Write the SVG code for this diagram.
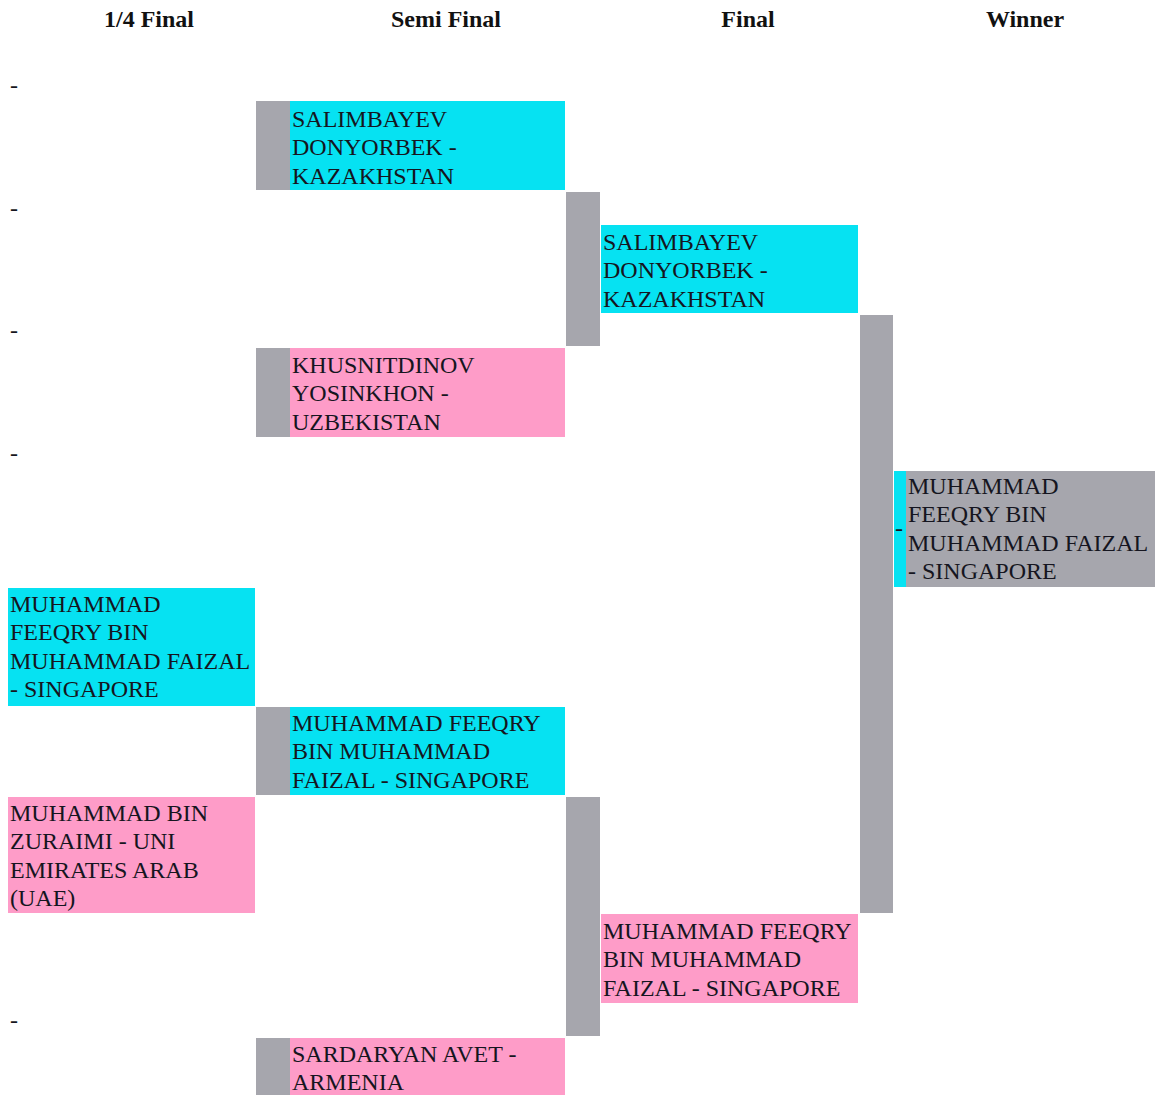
<svg xmlns="http://www.w3.org/2000/svg" width="1156" height="1095" viewBox="0 0 1156 1095">
<style>
.hdr{font-family:'Liberation Serif',serif;font-weight:700;font-size:24px;fill:#111;text-anchor:middle}
.t{font-family:'Liberation Serif',serif;font-weight:400;font-size:24px;fill:#151520}
.cy{fill:#06e2f2}
.pk{fill:#fe9cc8}
.gr{fill:#a6a6ad}
</style>
<rect width="1156" height="1095" fill="#ffffff"/>
<g id="headers">
<text class="hdr" x="149" y="27">1/4 Final</text>
<text class="hdr" x="446" y="27">Semi Final</text>
<text class="hdr" x="748" y="27">Final</text>
<text class="hdr" x="1025" y="27">Winner</text>
</g>
<g id="connectors">
<rect class="gr" x="256" y="101" width="34" height="89"/>
<rect class="gr" x="256" y="348" width="34" height="89"/>
<rect class="gr" x="256" y="707" width="34" height="88"/>
<rect class="gr" x="256" y="1038" width="34" height="57"/>
<rect class="gr" x="566" y="192" width="34" height="154"/>
<rect class="gr" x="566" y="797" width="34" height="239"/>
<rect class="gr" x="860" y="315" width="33" height="598"/>
</g>
<g id="qf-1"><text class="t" x="10" y="93">-</text></g>
<g id="qf-2"><text class="t" x="10" y="216">-</text></g>
<g id="qf-3"><text class="t" x="10" y="338">-</text></g>
<g id="qf-4"><text class="t" x="10" y="461">-</text></g>
<g id="qf-5">
<rect class="cy" x="8" y="588" width="247" height="118"/>
<text class="t" font-family="Liberation Serif" x="10" y="612"><tspan x="10">MUHAMMAD</tspan><tspan x="10" dy="28.3">FEEQRY BIN</tspan><tspan x="10" dy="28.3">MUHAMMAD FAIZAL</tspan><tspan x="10" dy="28.3">- SINGAPORE</tspan></text>
</g>
<g id="qf-6">
<rect class="pk" x="8" y="797" width="247" height="116"/>
<text class="t" x="10" y="821"><tspan x="10">MUHAMMAD BIN</tspan><tspan x="10" dy="28.3">ZURAIMI - UNI</tspan><tspan x="10" dy="28.3">EMIRATES ARAB</tspan><tspan x="10" dy="28.3">(UAE)</tspan></text>
</g>
<g id="qf-7"><text class="t" x="10" y="1028">-</text></g>
<g id="sf-1">
<rect class="cy" x="290" y="101" width="275" height="89"/>
<text class="t" x="292" y="127"><tspan x="292">SALIMBAYEV</tspan><tspan x="292" dy="28.3">DONYORBEK -</tspan><tspan x="292" dy="28.3">KAZAKHSTAN</tspan></text>
</g>
<g id="sf-2">
<rect class="pk" x="290" y="348" width="275" height="89"/>
<text class="t" x="292" y="373"><tspan x="292">KHUSNITDINOV</tspan><tspan x="292" dy="28.3">YOSINKHON -</tspan><tspan x="292" dy="28.3">UZBEKISTAN</tspan></text>
</g>
<g id="sf-3">
<rect class="cy" x="290" y="707" width="275" height="88"/>
<text class="t" x="292" y="731"><tspan x="292">MUHAMMAD FEEQRY</tspan><tspan x="292" dy="28.3">BIN MUHAMMAD</tspan><tspan x="292" dy="28.3">FAIZAL - SINGAPORE</tspan></text>
</g>
<g id="sf-4">
<rect class="pk" x="290" y="1038" width="275" height="57"/>
<text class="t" x="292" y="1062"><tspan x="292">SARDARYAN AVET -</tspan><tspan x="292" dy="28.3">ARMENIA</tspan></text>
</g>
<g id="f-1">
<rect class="cy" x="601" y="225" width="257" height="88"/>
<text class="t" x="603" y="250"><tspan x="603">SALIMBAYEV</tspan><tspan x="603" dy="28.3">DONYORBEK -</tspan><tspan x="603" dy="28.3">KAZAKHSTAN</tspan></text>
</g>
<g id="f-2">
<rect class="pk" x="601" y="914" width="257" height="89"/>
<text class="t" x="603" y="939"><tspan x="603">MUHAMMAD FEEQRY</tspan><tspan x="603" dy="28.3">BIN MUHAMMAD</tspan><tspan x="603" dy="28.3">FAIZAL - SINGAPORE</tspan></text>
</g>
<g id="winner">
<rect class="cy" x="894" y="471" width="12" height="116"/>
<text class="t" x="895" y="536">-</text>
<rect class="gr" x="906" y="471" width="249" height="116"/>
<text class="t" x="908" y="494"><tspan x="908">MUHAMMAD</tspan><tspan x="908" dy="28.3">FEEQRY BIN</tspan><tspan x="908" dy="28.3">MUHAMMAD FAIZAL</tspan><tspan x="908" dy="28.3">- SINGAPORE</tspan></text>
</g>
</svg>
